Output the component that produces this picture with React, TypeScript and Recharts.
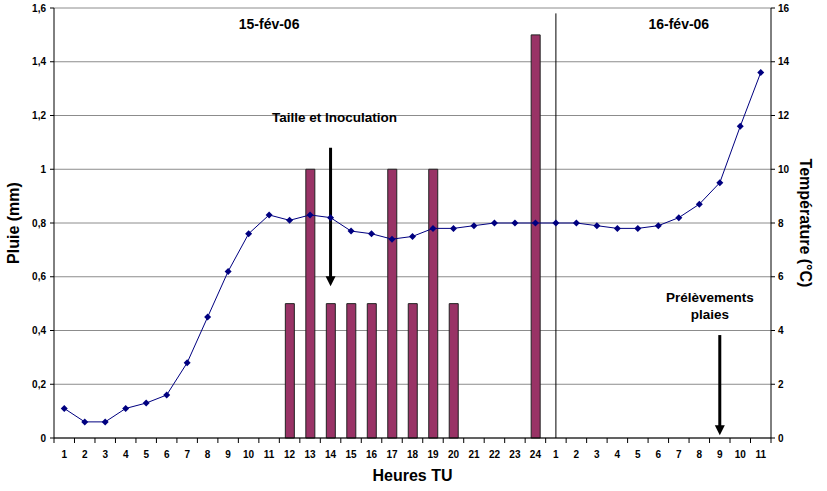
import {
  ComposedChart,
  Bar,
  Line,
  XAxis,
  YAxis,
  CartesianGrid,
  ReferenceLine,
  ReferenceDot,
} from 'recharts';

const hourLabels: string[] = [
  '1', '2', '3', '4', '5', '6', '7', '8', '9', '10', '11', '12',
  '13', '14', '15', '16', '17', '18', '19', '20', '21', '22', '23', '24',
  '1', '2', '3', '4', '5', '6', '7', '8', '9', '10', '11',
];

// Pluie (mm), left axis
const rain: number[] = [
  0, 0, 0, 0, 0, 0, 0, 0, 0, 0, 0, 0.5,
  1, 0.5, 0.5, 0.5, 1, 0.5, 1, 0.5, 0, 0, 0, 1.5,
  0, 0, 0, 0, 0, 0, 0, 0, 0, 0, 0,
];

// Température (°C), right axis
const temperature: number[] = [
  1.1, 0.6, 0.6, 1.1, 1.3, 1.6, 2.8, 4.5, 6.2, 7.6, 8.3, 8.1,
  8.3, 8.2, 7.7, 7.6, 7.4, 7.5, 7.8, 7.8, 7.9, 8.0, 8.0, 8.0,
  8.0, 8.0, 7.9, 7.8, 7.8, 7.9, 8.2, 8.7, 9.5, 11.6, 13.6,
];

const rainTicks = [0, 0.2, 0.4, 0.6, 0.8, 1, 1.2, 1.4, 1.6];
const tempTicks = [0, 2, 4, 6, 8, 10, 12, 14, 16];

// unique keys so the two days don't collide
const chartData = hourLabels.map((h, i) => ({
  key: `${i < 24 ? 'a' : 'b'}${h}`,
  pluie: rain[i],
  temp: temperature[i],
}));

const FONT = "'Liberation Sans', Arial, sans-serif";
const TICK_SIZE = 5;
const TICK_MARGIN = 8;
const tickStyle = { fontSize: 10, fontWeight: 'bold' as const, fill: '#000', fontFamily: FONT };
const titleStyle = { fontSize: 16, fontWeight: 'bold' as const, fill: '#000', fontFamily: FONT };

function HourTick(props: any) {
  const { x, y, payload, index } = props;
  const off = payload?.offset ?? 10.24;
  const axisY = y - TICK_SIZE - TICK_MARGIN;
  const last = index === hourLabels.length - 1;
  return (
    <g>
      <line x1={x - off} x2={x - off} y1={axisY} y2={axisY + TICK_SIZE} stroke="#000" />
      {last && <line x1={x + off} x2={x + off} y1={axisY} y2={axisY + TICK_SIZE} stroke="#000" />}
      <text x={x} y={y} dy="0.71em" textAnchor="middle" style={tickStyle}>
        {hourLabels[index]}
      </text>
    </g>
  );
}

function Diamond(props: any) {
  const { cx, cy, index } = props;
  if (cx == null || cy == null) return <g key={`d-${index}`} />;
  const r = 3.5;
  return (
    <polygon
      key={`d-${index}`}
      points={`${cx},${cy - r} ${cx + r},${cy} ${cx},${cy + r} ${cx - r},${cy}`}
      fill="#000080"
    />
  );
}

/** Thick down arrow with text lines stacked above its tail. */
function arrowShape(lines: string[], dx: number, gap: number, lineH: number) {
  return (p: any) => {
    const { x1, y1, x2, y2 } = p;
    const head = 10;
    return (
      <g>
        <line x1={x1} y1={y1} x2={x2} y2={y2 - head + 1} stroke="#000" strokeWidth={3} />
        <polygon points={`${x2 - 5},${y2 - head} ${x2 + 5},${y2 - head} ${x2},${y2}`} fill="#000" />
        {lines.map((t, i) => (
          <text
            key={t}
            x={x1 + dx}
            y={y1 - gap - (lines.length - 1 - i) * lineH}
            textAnchor="middle"
            style={{ fontSize: 13.5, fontWeight: 'bold', fill: '#000', fontFamily: FONT }}
          >
            {t}
          </text>
        ))}
      </g>
    );
  };
}

function dayLabel(text: string) {
  return (p: any) => (
    <text
      x={p.cx}
      y={p.cy}
      textAnchor="middle"
      dominantBaseline="central"
      style={{ fontSize: 14, fontWeight: 'bold', fill: '#000', fontFamily: FONT }}
    >
      {text}
    </text>
  );
}

export default function App() {
  return (
    <div
      style={{
        position: 'absolute',
        left: 0,
        top: 0,
        width: 827,
        height: 491,
        background: '#fff',
        fontFamily: FONT,
      }}
    >
      <ComposedChart
        width={827}
        height={491}
        data={chartData}
        margin={{ top: 8, right: 6, bottom: 23, left: 4 }}
      >
        <CartesianGrid horizontal vertical={false} stroke="#8c8c8c" yAxisId="left" />
        <XAxis
          dataKey="key"
          interval={0}
          tickLine={false}
          tickSize={TICK_SIZE}
          tickMargin={TICK_MARGIN}
          height={30}
          stroke="#000"
          tick={<HourTick />}
          label={{ value: 'Heures TU', position: 'bottom', offset: 2, style: titleStyle }}
        />
        <YAxis
          yAxisId="left"
          domain={[0, 1.6]}
          ticks={rainTicks}
          width={50}
          stroke="#000"
          tickSize={4}
          tickMargin={4}
          tick={tickStyle}
          tickFormatter={(v: number) => String(v).replace('.', ',')}
          label={{
            value: 'Pluie (mm)',
            angle: -90,
            position: 'insideLeft',
            offset: 9,
            style: { ...titleStyle, textAnchor: 'middle' },
          }}
        />
        <YAxis
          yAxisId="right"
          orientation="right"
          domain={[0, 16]}
          ticks={tempTicks}
          width={50}
          stroke="#000"
          tickSize={4}
          tickMargin={3}
          tick={tickStyle}
          label={{
            value: 'Température (°C)',
            angle: 90,
            position: 'insideRight',
            offset: 15,
            style: { ...titleStyle, textAnchor: 'middle' },
          }}
        />
        <Bar
          yAxisId="left"
          dataKey="pluie"
          barSize={9}
          fill="#993366"
          stroke="#222"
          strokeWidth={1}
          isAnimationActive={false}
        />
        <Line
          yAxisId="right"
          dataKey="temp"
          stroke="#000080"
          strokeWidth={1}
          dot={Diamond}
          activeDot={false}
          isAnimationActive={false}
        />
        {/* day separator */}
        <ReferenceLine
          yAxisId="left"
          segment={[{ x: 'b1', y: 0 }, { x: 'b1', y: 1.58 }]}
          stroke="#000"
          strokeWidth={1}
        />
        <ReferenceLine
          yAxisId="left"
          segment={[{ x: 'a14', y: 1.08 }, { x: 'a14', y: 0.565 }]}
          shape={arrowShape(['Taille et Inoculation'], 4, 26, 0)}
        />
        <ReferenceLine
          yAxisId="left"
          segment={[{ x: 'b9', y: 0.383 }, { x: 'b9', y: 0.01 }]}
          shape={arrowShape(['Prélèvements', 'plaies'], -10, 16, 17)}
        />
        <ReferenceDot yAxisId="left" x="a11" y={1.54} r={0} shape={dayLabel('15-fév-06')} />
        <ReferenceDot yAxisId="left" x="b7" y={1.54} r={0} shape={dayLabel('16-fév-06')} />
      </ComposedChart>
    </div>
  );
}
